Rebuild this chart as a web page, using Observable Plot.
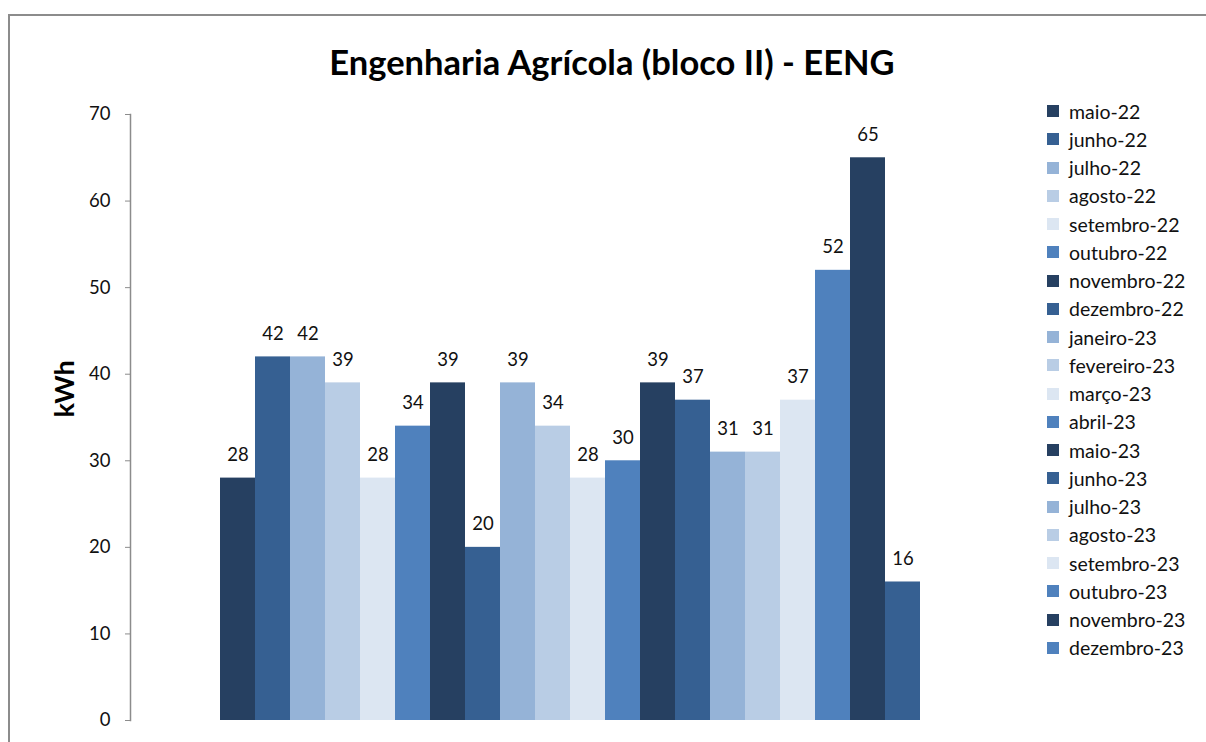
<!DOCTYPE html>
<html>
<head>
<meta charset="utf-8">
<script src="https://cdn.jsdelivr.net/npm/d3@7"></script>
<script src="https://cdn.jsdelivr.net/npm/@observablehq/plot@0.6"></script>
<style>
  html, body { margin: 0; padding: 0; background: #fff; }
  #wrap { position: relative; width: 1206px; height: 742px; overflow: hidden; font-family: Lato, "Open Sans", sans-serif; }
  #border { position: absolute; left: 8px; top: 14px; width: 1400px; height: 900px; border-top: 2px solid #8c8c8c; border-left: 2px solid #8c8c8c; }
  #title { position: absolute; left: 0; top: 38px; width: 1224px; text-align: center; font-weight: bold; font-size: 34.5px; line-height: 48px; color: #000; }
  #chart { position: absolute; left: 0; top: 0; }
  #legend { position: absolute; left: 1047px; top: 97px; }
  .item { height: 28.26px; display: flex; align-items: center; font-size: 19.5px; color: #111; white-space: nowrap; }
  .sw { width: 12px; height: 12px; margin-right: 10px; flex: none; }
</style>
</head>
<body>
<div id="wrap">
  <div id="border"></div>
  <div id="chart"></div>
  <div id="title">Engenharia Agrícola (bloco II) - EENG</div>
  <div id="legend"></div>
</div>
<script>
const months = ["maio-22","junho-22","julho-22","agosto-22","setembro-22","outubro-22","novembro-22","dezembro-22","janeiro-23","fevereiro-23","março-23","abril-23","maio-23","junho-23","julho-23","agosto-23","setembro-23","outubro-23","novembro-23","dezembro-23"];
const values = [28,42,42,39,28,34,39,20,39,34,28,30,39,37,31,31,37,52,65,16];
const palette = ["#264061","#366092","#95B3D7","#B9CDE5","#DCE6F2","#4F81BD"];
const barColors = months.map((m, i) => palette[i % 6]);
const legendColors = barColors.slice(0, 19).concat(["#4F81BD"]);
const yTicks = [0,10,20,30,40,50,60,70];

const data = months.map((m, i) => ({month: m, value: values[i], color: barColors[i]}));

const chart = Plot.plot({
  width: 1206,
  height: 742,
  marginTop: 114,
  marginBottom: 22,
  marginLeft: 130,
  marginRight: 196,
  style: {fontFamily: "Lato, 'Open Sans', sans-serif", background: "transparent"},
  x: {domain: months, padding: 0, insetLeft: 88, insetRight: 88, axis: null},
  y: {domain: [0, 70], axis: null},
  color: {type: "identity"},
  marks: [
    Plot.barY(data, {x: "month", y: "value", fill: "color"}),
    Plot.text(data, {x: "month", y: "value", text: d => String(d.value), dy: -23, fontSize: 18.5, fill: "#111"}),
    Plot.axisY({ticks: yTicks, tickSize: 5, tickPadding: 15, fontSize: 18.5, stroke: "#8c8c8c", fill: "#111", label: null, tickFormat: d => String(d)}),
    Plot.frame({anchor: "left", stroke: "#8c8c8c", strokeWidth: 1.5}),
    Plot.text(["kWh"], {frameAnchor: "left", dx: -65, rotate: -90, fontWeight: "bold", fontSize: 27, fill: "#000"})
  ]
});
document.getElementById("chart").appendChild(chart);

const legend = document.getElementById("legend");
months.forEach((m, i) => {
  const it = document.createElement("div");
  it.className = "item";
  const sw = document.createElement("div");
  sw.className = "sw";
  sw.style.background = legendColors[i];
  const t = document.createElement("span");
  t.textContent = m;
  it.appendChild(sw);
  it.appendChild(t);
  legend.appendChild(it);
});
</script>
</body>
</html>
